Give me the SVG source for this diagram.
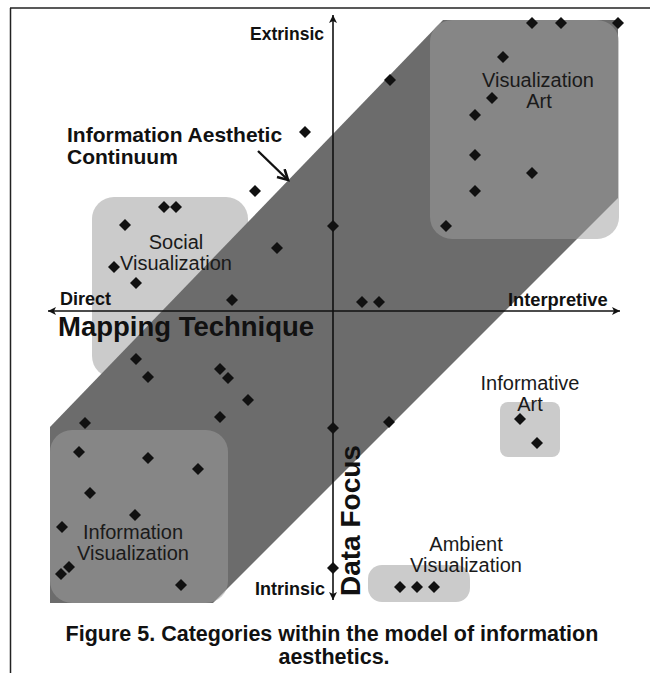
<svg xmlns="http://www.w3.org/2000/svg" width="650" height="673" viewBox="0 0 650 673">
  <style>
    .bold { font-family: "Liberation Sans", Arial, sans-serif; font-weight: bold; fill: #111; }
    .cat { font-family: "Liberation Sans", Arial, sans-serif; font-size: 20px; fill: #1a1a1a; text-anchor: middle; }
    .pale { fill: #cbcbcb; }
    .under { fill: #c2c2c2; }
    .glow { fill: #ffffff; fill-opacity: 0.18; }
    .axis { stroke: #111; stroke-width: 1.6; fill: none; }
  </style>
  <defs>
    <path id="dot" d="M0,-6 L6,0 L0,6 L-6,0 Z" fill="#111"/>
    <marker id="tip" markerUnits="userSpaceOnUse" markerWidth="10" markerHeight="10" refX="8" refY="4" orient="auto-start-reverse">
      <path d="M0,0 L8,4 L0,8 L2,4 Z" fill="#111"/>
    </marker>
    <marker id="chevron" markerUnits="userSpaceOnUse" markerWidth="14" markerHeight="14" refX="11" refY="6" orient="auto">
      <path d="M1,0.5 L11,6 L1,11.5" fill="none" stroke="#111" stroke-width="2.6"/>
    </marker>
  </defs>

  <rect width="650" height="673" fill="#ffffff"/>

  <!-- page frame -->
  <g id="frame" stroke="#222" stroke-width="1.5" fill="none">
    <path d="M10,8 H650"/>
    <path d="M10.5,8 V673"/>
  </g>

  <!-- categories lying under the continuum band -->
  <g id="social-visualization">
    <rect class="pale" x="92" y="197" width="156" height="181" rx="22"/>
  </g>
  <g id="informative-art">
    <rect class="pale" x="500" y="402" width="60" height="55" rx="8"/>
  </g>
  <g id="ambient-visualization">
    <rect class="pale" x="368" y="565" width="102" height="37" rx="14"/>
  </g>
  <rect class="under" x="430" y="20" width="189" height="219" rx="22"/>
  <rect class="under" x="50" y="430" width="178" height="173" rx="22"/>

  <!-- information aesthetic continuum band -->
  <g id="continuum">
    <polygon points="443,20 618,20 618,198 213,603 50,603 50,427" fill="#6c6c6c"/>
  </g>

  <!-- categories highlighted within the band -->
  <g id="visualization-art">
    <rect class="glow" x="430" y="20" width="189" height="219" rx="22"/>
  </g>
  <g id="information-visualization">
    <rect class="glow" x="50" y="430" width="178" height="173" rx="22"/>
  </g>

  <!-- axes and pointer -->
  <g id="connectors">
    <line class="axis" x1="333" y1="600" x2="333" y2="15" marker-start="url(#tip)" marker-end="url(#tip)"/>
    <line class="axis" x1="48" y1="311" x2="620" y2="311" marker-start="url(#tip)" marker-end="url(#tip)"/>
    <line x1="258" y1="151" x2="288" y2="180" stroke="#111" stroke-width="2.4" marker-end="url(#chevron)"/>
  </g>

  <!-- examples -->
  <g id="examples">
    <use href="#dot" x="305" y="132"/>
    <use href="#dot" x="255" y="191"/>
    <use href="#dot" x="164" y="207"/>
    <use href="#dot" x="176" y="207"/>
    <use href="#dot" x="125" y="225"/>
    <use href="#dot" x="114" y="267"/>
    <use href="#dot" x="136" y="283"/>
    <use href="#dot" x="277" y="248"/>
    <use href="#dot" x="232" y="300"/>
    <use href="#dot" x="532" y="23"/>
    <use href="#dot" x="561" y="23"/>
    <use href="#dot" x="618" y="23"/>
    <use href="#dot" x="503" y="57"/>
    <use href="#dot" x="390" y="80"/>
    <use href="#dot" x="492" y="98"/>
    <use href="#dot" x="475" y="115"/>
    <use href="#dot" x="475" y="155"/>
    <use href="#dot" x="532" y="173"/>
    <use href="#dot" x="475" y="191"/>
    <use href="#dot" x="446" y="226"/>
    <use href="#dot" x="333" y="226"/>
    <use href="#dot" x="362" y="302"/>
    <use href="#dot" x="379" y="302"/>
    <use href="#dot" x="136" y="359"/>
    <use href="#dot" x="148" y="377"/>
    <use href="#dot" x="220" y="369"/>
    <use href="#dot" x="228" y="378"/>
    <use href="#dot" x="248" y="400"/>
    <use href="#dot" x="220" y="417"/>
    <use href="#dot" x="85" y="423"/>
    <use href="#dot" x="79" y="452"/>
    <use href="#dot" x="148" y="458"/>
    <use href="#dot" x="198" y="469"/>
    <use href="#dot" x="90" y="493"/>
    <use href="#dot" x="135" y="515"/>
    <use href="#dot" x="62" y="527"/>
    <use href="#dot" x="69" y="567"/>
    <use href="#dot" x="61" y="574"/>
    <use href="#dot" x="181" y="585"/>
    <use href="#dot" x="333" y="428"/>
    <use href="#dot" x="389" y="422"/>
    <use href="#dot" x="520" y="419"/>
    <use href="#dot" x="537" y="443"/>
    <use href="#dot" x="333" y="568"/>
    <use href="#dot" x="400" y="587"/>
    <use href="#dot" x="417" y="587"/>
    <use href="#dot" x="434" y="587"/>
  </g>

  <!-- category labels -->
  <g id="category-labels">
    <text class="cat" x="176" y="249">Social</text>
    <text class="cat" x="176" y="270">Visualization</text>
    <text class="cat" x="538" y="87">Visualization</text>
    <text class="cat" x="539" y="108">Art</text>
    <text class="cat" x="530" y="390">Informative</text>
    <text class="cat" x="530" y="411">Art</text>
    <text class="cat" x="466" y="551">Ambient</text>
    <text class="cat" x="466" y="572">Visualization</text>
    <text class="cat" x="133" y="539">Information</text>
    <text class="cat" x="133" y="560">Visualization</text>
  </g>

  <!-- axis labels -->
  <g id="axis-labels">
    <text class="bold" x="324" y="40" font-size="17.5" text-anchor="end">Extrinsic</text>
    <text class="bold" x="325" y="595" font-size="18" text-anchor="end">Intrinsic</text>
    <text class="bold" x="60" y="305" font-size="18">Direct</text>
    <text class="bold" x="508" y="306" font-size="18.3">Interpretive</text>
    <text class="bold" x="58" y="336" font-size="27.5">Mapping Technique</text>
    <text class="bold" font-size="28" transform="translate(360,596) rotate(-90)">Data Focus</text>
    <text class="bold" x="67" y="142" font-size="21">Information Aesthetic</text>
    <text class="bold" x="67" y="164" font-size="21">Continuum</text>
  </g>

  <!-- caption -->
  <g id="caption">
    <text class="bold" x="332" y="641" font-size="21.5" text-anchor="middle">Figure 5. Categories within the model of information</text>
    <text class="bold" x="334" y="664" font-size="21.5" text-anchor="middle">aesthetics.</text>
  </g>
</svg>
